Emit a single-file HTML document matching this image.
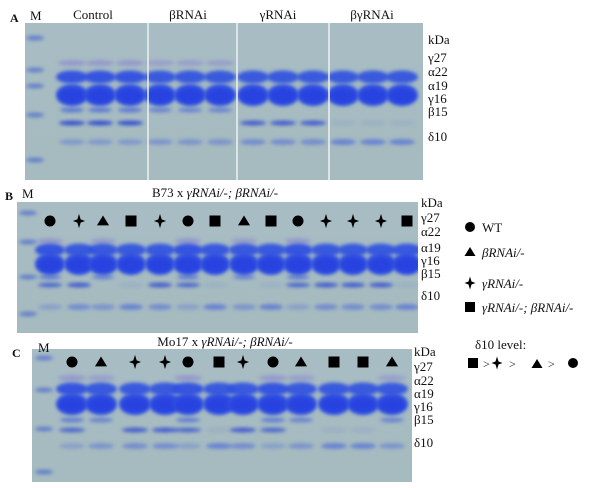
<!DOCTYPE html>
<html><head><meta charset="utf-8">
<style>
html,body{margin:0;padding:0;background:#fff;}
svg{display:block;font-family:"Liberation Serif",serif;}
</style></head>
<body>
<svg id="fig" width="600" height="488" viewBox="0 0 600 488">
<defs>
<filter id="blur" x="-30%" y="-60%" width="160%" height="220%"><feGaussianBlur stdDeviation="1.8"/></filter>
<linearGradient id="gelA" x1="0" y1="0" x2="0" y2="1"><stop offset="0" stop-color="#a8bcc4"/><stop offset="1" stop-color="#a5bbbf"/></linearGradient>
</defs>
<g id="panels"></g>
<g id="labels" font-size="13" fill="#111"></g>
</svg>
<script>
// ---------- data ----------
const bandNamesA = ["γ27","α22","α19","γ16","β15","δ10"];
const groupsA = ["Control","βRNAi","γRNAi","βγRNAi"];
const genoA = ["ctl","ctl","ctl","b","b","b","g","g","g","bg","bg","bg"];
const genoB = ["wt","g","b","bg","g","wt","bg","b","bg","wt","g","g","g","bg"];
const genoC = ["wt","b","g","g","wt","bg","g","wt","b","bg","bg","b"];
const legendLabels = ["WT","βRNAi/-","γRNAi/-","γRNAi/-; βRNAi/-"];
// band intensity (0..1) for: gamma27, alpha22, alpha19/gamma16, beta15 upper, beta15 lower, delta10
const intensity = {
  ctl:[0.4,0.95,1,0.6,0.85,0.4],
  wt:[0.4,0.95,1,0.55,0.65,0.3],
  b:[0.35,0.9,1,0.5,0,0.45],
  g:[0,0.9,1,0,0.75,0.55],
  bg:[0,0.9,1,0,0.1,0.65]
};
// ---------- helpers ----------
const NS="http://www.w3.org/2000/svg";
const panels=document.getElementById('panels');
const labels=document.getElementById('labels');
const defs=document.querySelector('defs');
function mk(tag,attrs,parent){const e=document.createElementNS(NS,tag);for(const k in attrs)e.setAttribute(k,attrs[k]);parent.appendChild(e);return e;}
function txt(x,y,s,parent,extra){const t=mk('text',Object.assign({x:x,y:y},extra||{}),parent);t.textContent=s;return t;}
function band(g,cx,cy,rx,ry,a,col){if(a<=0)return;const e=mk('ellipse',{cx:cx,cy:cy,rx:rx,ry:ry,fill:col||'#2f4fe0','fill-opacity':a,filter:'url(#blur)'},g);return e;}
function symbol(g,type,x,y,s){
  s=s||5.5;let e;
  if(type==='wt') e=mk('circle',{cx:x,cy:y,r:s,fill:'#000'},g);
  else if(type==='b') e=mk('polygon',{points:`${x},${y-s} ${x+s*1.1},${y+s*0.8} ${x-s*1.1},${y+s*0.8}`,fill:'#000'},g);
  else if(type==='bg') e=mk('rect',{x:x-s,y:y-s,width:2*s,height:2*s,fill:'#000'},g);
  else e=mk('path',{d:`M${x},${y-s*1.3} L${x+s*0.3},${y-s*0.3} L${x+s*1.1},${y} L${x+s*0.3},${y+s*0.3} L${x},${y+s*1.3} L${x-s*0.3},${y+s*0.3} L${x-s*1.1},${y} L${x-s*0.3},${y-s*0.3}Z`,fill:'#000'},g);
  
  
  return e;
}
function gel(name,x0,y0,x1,y1,lanes,bandY,markerX,markerY,symY,geno,w){
  const cp=mk('clipPath',{id:'clip-'+name},defs);
  mk('rect',{x:x0,y:y0,width:x1-x0,height:y1-y0},cp);
  const g=mk('g',{'clip-path':'url(#clip-'+name+')'},panels);
  
  
  mk('rect',{x:x0,y:y0,width:x1-x0,height:y1-y0,fill:'url(#gelA)'},g);
  markerY.forEach(my=>band(g,markerX,my,9,2.5,0.6,'#3a5ad0'));
  lanes.forEach((cx,i)=>{
    const it=intensity[geno[i]];
    const lg=mk('g',{},g);
    
    
    band(lg,cx,bandY[0],w-2,3,it[0],'#7a6ad8');
    band(lg,cx,bandY[1],w,6.5,it[1]);
    band(lg,cx,bandY[2],w,11,it[2]);
    band(lg,cx,bandY[2]+1,w-3,7,0.8,'#2440e0');
    band(lg,cx,bandY[3],w-4,2.5,it[3]);
    band(lg,cx,bandY[4],w-3,2.5,it[4],'#2540d0');
    band(lg,cx,bandY[5],w-3,3,it[5],'#4a66d8');
    if(symY) symbol(g,geno[i],cx,symY,5.5);
  });
  return g;
}
function sideLabels(x,ys){
  ["kDa"].concat(bandNamesA).forEach((s,i)=>{const t=txt(x,ys[i],s,labels);
    
    });
}
// ---------- Panel A ----------
const lanesA=[72,100,130,160,190,220,253,283,313,343,373,402];
const gA=gel('gel-panel-a',25,23,423,180,lanesA,[63,77,95,110,123,142],35,[38,70,86,115,160],null,genoA,16);
[148,237,329].forEach(x=>{const l=mk('line',{x1:x,y1:23,x2:x,y2:180,stroke:'#eef2f2','stroke-width':1.5},gA);
  });
[93,188,278,372].forEach((x,i)=>{const t=txt(x,19,groupsA[i],labels,{'text-anchor':'middle'});
  });
let t=txt(10,22,'A',labels,{'font-weight':'bold','font-size':'12'});
t=txt(30,20,'M',labels);
sideLabels(428,[44,62,76,90,103,116,141]);
// ---------- Panel B ----------
const lanesB=[50,79,103,131,160,188,215,244,271,298,326,353,381,407];
gel('gel-panel-b',17,202,418,333,lanesB,[241,250,264,277,285,307],28,[213,242,277,314],221,genoB,15);
t=txt(5,200,'B',labels,{'font-weight':'bold','font-size':'12'});
t=txt(22,198,'M',labels);
t=mk('text',{x:215,y:197,'text-anchor':'middle'},labels);t.innerHTML='B73 x <tspan font-style="italic">γRNAi/-; βRNAi/-</tspan>';

sideLabels(421,[207,222,236,252,265,278,300]);
// ---------- Panel C ----------
const lanesC=[72,101,135,165,188,219,243,273,301,334,363,392];
gel('gel-panel-c',32,349,412,482,lanesC,[378,389,404,420,430,446],44,[358,390,429,472],362,genoC,16);
t=txt(12,357,'C',labels,{'font-weight':'bold','font-size':'12'});
t=txt(38,352,'M',labels);
t=mk('text',{x:225,y:346,'text-anchor':'middle'},labels);t.innerHTML='Mo17 x <tspan font-style="italic">γRNAi/-; βRNAi/-</tspan>';

sideLabels(414,[356,371,385,398,411,424,447]);
// ---------- Legend ----------
const lg=mk('g',{},labels);


const legTypes=['wt','b','g','bg'];const legY=[227,252,283,307];
legTypes.forEach((ty,i)=>{symbol(lg,ty,470,legY[i],5);
  const tt=txt(482,legY[i]+5,legendLabels[i],lg,i>0?{'font-style':'italic'}:{});
  });
t=txt(475,349,'δ10  level:',lg);
symbol(lg,'bg',473,363,5);symbol(lg,'g',497,363,5);symbol(lg,'b',537,364,5);symbol(lg,'wt',573,363,5);
[483,509,548].forEach(x=>{const g2=txt(x,368,'>',lg,{'font-size':'12'});});
</script>
</body></html>
